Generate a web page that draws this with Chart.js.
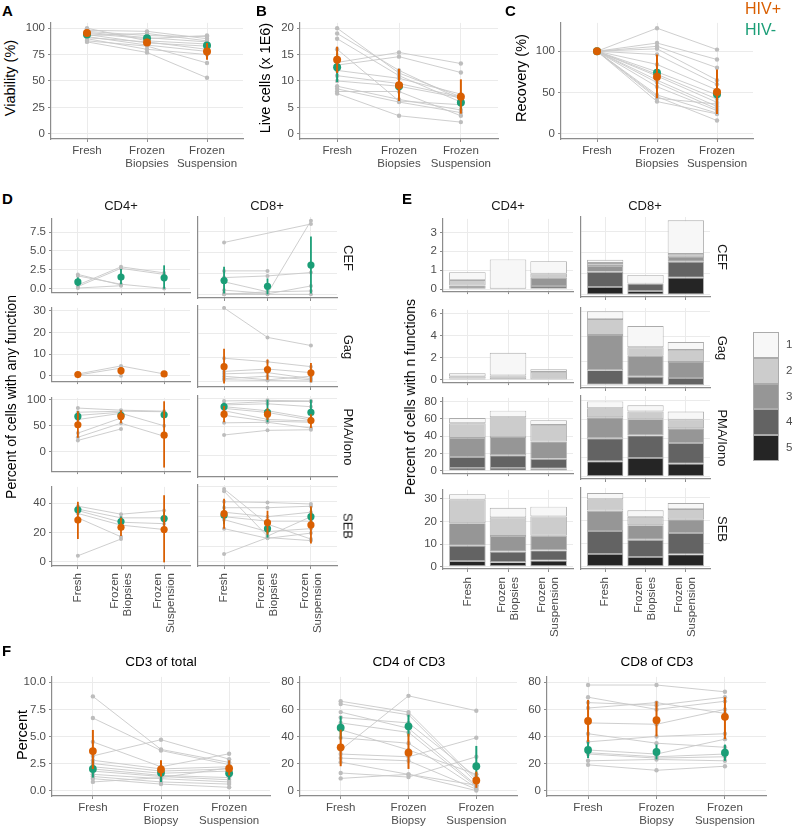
<!DOCTYPE html>
<html><head><meta charset="utf-8">
<script src="https://cdn.jsdelivr.net/npm/chart.js@4.4.1/dist/chart.umd.min.js"></script>
<style>
html,body{margin:0;padding:0;background:#fff;}
#fig{position:relative;width:800px;height:830px;overflow:hidden;background:#fff;font-family:"Liberation Sans",Arial,Helvetica,sans-serif;}
#fig canvas{position:absolute;}
.t{position:absolute;white-space:nowrap;line-height:1;}
</style></head>
<body><div id="fig"></div>
<script>
// ================= DATA =================
const stageLabels  = ["Fresh", ["Frozen","Biopsies"], ["Frozen","Suspension"]];
const stageLabelsF = ["Fresh", ["Frozen","Biopsy"], ["Frozen","Suspension"]];
const groupNames = ["HIV+","HIV-"];
const cellTypes = ["CD4+","CD8+"];
const stimuli = ["CEF","Gag","PMA/Iono","SEB"];
const functionCounts = ["1","2","3","4","5"];
const fTitles = ["CD3 of total","CD4 of CD3","CD8 of CD3"];

// A: viability (%)
const viabilitySubjects = [
  [100, 88, 85], [98, 97, 90], [97, 93, 92], [96, 91, 87], [95, 90, 93], [94, 86, 83],
  [93, 95, 88], [92, 84, 78], [91, 87, 80], [90, 80, 75], [88, 83, 67], [87, 77, 53]
];
const viabilityPos = [95.5, 86.5, 78.0], viabilityPosLo = [94.0, 83.0, 70.0], viabilityPosHi = [97.0, 90.0, 86.0];
const viabilityNeg = [94.0, 90.5, 83.5], viabilityNegLo = [92.0, 88.5, 80.0], viabilityNegHi = [96.0, 92.5, 87.0];

// B: live cells (x 1E6)
const liveSubjects = [
  [20, 11.5, 7.0], [19, 12, 6.5], [18, 11, 6.0], [16, 6.2, 5.5], [13.5, 15.4, 13.3], [13, 14.6, 11.6],
  [12, 10.5, 7.5], [11, 9.5, 7.0], [10, 9.0, 6.8], [9, 6.5, 4.5], [8.5, 6.0, 4.0], [8, 8.0, 3.4], [7.6, 3.4, 2.2]
];
const livePos = [14.0, 9.2, 7.0], livePosLo = [11.5, 6.2, 3.8], livePosHi = [16.5, 12.3, 10.3];
const liveNeg = [12.6, 9.0, 5.9], liveNegLo = [9.8, 6.6, 4.6], liveNegHi = [15.2, 11.4, 7.2];

// C: recovery (%)
const recoverySubjects = [
  [100, 128, 102], [100, 110, 90], [100, 106, 80], [100, 103, 65], [100, 96, 60], [100, 84, 53],
  [100, 75, 47], [100, 72, 42], [100, 70, 38], [100, 65, 33], [100, 62, 30], [100, 57, 28],
  [100, 47, 25], [100, 45, 16], [100, 43, 36], [100, 39, 24]
];
const recoveryPos = [100, 69, 50.5], recoveryPosLo = [99, 43, 24], recoveryPosHi = [101, 96, 78];
const recoveryNeg = [100, 74, 48], recoveryNegLo = [99, 64, 38], recoveryNegHi = [101, 84, 58];

// D: percent of cells with any function
const dCefCd4Subjects = [[1.9, 0.5, null], [1.7, 0.6, 0.05], [0.5, 2.9, 2.1], [0.3, 2.7, 1.9], [0.1, 0.4, null]];
const dCefCd4Neg = [0.9, 1.55, 1.45], dCefCd4NegLo = [0.35, 0.6, 0.0], dCefCd4NegHi = [1.5, 2.6, 3.1];
const dCefCd8Subjects = [[6.2, null, 8.4], [2.8, 2.8, null], [2.0, 2.2, 2.6], [1.5, 0.3, null], [0.5, 0.1, 8.8], [0.1, 0.05, 1.0], [0, 0.3, 0.4], [0, 0, 0]];
const dCefCd8Neg = [1.65, 0.95, 3.5], dCefCd8NegLo = [0.1, 0.0, 0.1], dCefCd8NegHi = [3.3, 1.9, 6.9];
const dGagCd4Subjects = [[0.8, 4.5, 0.8], [0.3, 3.5, null], [0.2, 0.0, null]];
const dGagCd4Pos = [0.5, 2.3, 0.8], dGagCd4PosLo = [0.1, 0.5, 0.5], dGagCd4PosHi = [0.9, 4.0, 1.1];
const dGagCd8Subjects = [[30.5, 18.2, 14.8], [9.5, 8, 6], [4, 5, 3.5], [3, 3.5, 1], [2, 0.5, 2], [1, 2, 0.5], [0.5, 0.2, 0]];
const dGagCd8Pos = [6.0, 4.8, 3.4], dGagCd8PosLo = [-1.0, 0.5, -0.5], dGagCd8PosHi = [13.5, 9.0, 7.5];
const dPmaCd4Subjects = [[84, 80, 78], [76, 78, 77], [70, 76, null], [62, 74, 50], [36, 65, null], [28, 55, 30], [22, 44, null]];
const dPmaCd4Pos = [52, 68, 32], dPmaCd4PosLo = [27, 55, -30], dPmaCd4PosHi = [78, 80, 97];
const dPmaCd4Neg = [68, 70, 71], dPmaCd4NegLo = [60, 65, 62], dPmaCd4NegHi = [78, 79, 80];
const dPmaCd8Subjects = [[95, 96, 95], [90, 94, 94], [88, 90, 85], [85, 78, 65], [82, 75, 62], [78, 63, 60], [70, 60, 58], [57, 58, 48], [36, 44, 45]];
const dPmaCd8Pos = [72, 72, 61], dPmaCd8PosLo = [58, 62, 48], dPmaCd8PosHi = [86, 82, 72];
const dPmaCd8Neg = [85, 75, 75], dPmaCd8NegLo = [78, 58, 60], dPmaCd8NegHi = [92, 97, 97];
const dSebCd4Subjects = [[38, 32.5, 35], [36, 30, 30], [35, 27, 26], [33, 25, 22], [30, 17, null], [4, 15.5, null]];
const dSebCd4Pos = [28.5, 23.5, 22], dSebCd4PosLo = [15.5, 17.5, -0.5], dSebCd4PosHi = [41, 30, 45.5];
const dSebCd4Neg = [35.5, 27.5, 29.5], dSebCd4NegLo = [32, 24, 25], dSebCd4NegHi = [39, 31, 34];
const dSebCd8Subjects = [[48.5, 25, 15], [47, 17, 30], [40, 39.5, 38.5], [36, 36, 37], [33, 30, 33], [30, 27, 27], [28, 20, 22], [22, 15.5, 19], [5, 16, 14]];
const dSebCd8Pos = [32, 26, 24.5], dSebCd8PosLo = [22, 18, 12], dSebCd8PosHi = [42, 34, 37];
const dSebCd8Neg = [31, 22, 30], dSebCd8NegLo = [25, 16, 25], dSebCd8NegHi = [38, 28, 36];

// E: percent of cells with n functions (rows: 1,2,3,4,5 functions; columns: stages)
const eCefCd4 = [[0.42, 1.54, 0.66], [0.28, 0, 0.22], [0.20, 0, 0.43], [0, 0.03, 0.17], [0, 0, 0]];
const eCefCd8 = [[0.15, 0.41, 1.60], [0.14, 0, 0.15], [0.28, 0, 0.22], [0.72, 0.36, 0.76], [0.38, 0.18, 0.82]];
const eGagCd4 = [[0.28, 2.05, 0.23], [0.20, 0.33, 0.72], [0.04, 0, 0], [0.08, 0.07, 0], [0, 0, 0]];
const eGagCd8 = [[0.63, 1.73, 0.65], [1.30, 0.70, 0.98], [2.87, 1.70, 1.30], [1.17, 0.64, 0.57], [0.08, 0.08, 0.05]];
const ePmaCd4 = [[6.0, 7.5, 5.5], [17.0, 23.0, 19.0], [22.0, 21.0, 20.0], [12.5, 14.5, 11.5], [3.5, 3.5, 2.5]];
const ePmaCd8 = [[7.0, 6.5, 8.5], [9.5, 8.0, 9.0], [22.0, 17.0, 15.5], [24.0, 23.5, 21.5], [16.0, 19.5, 13.5]];
const eSebCd4 = [[2.4, 4.2, 4.3], [10.4, 8.2, 8.5], [9.9, 6.9, 6.5], [6.8, 4.7, 4.5], [2.5, 2.0, 2.7]];
const eSebCd8 = [[2.6, 2.8, 2.6], [4.9, 3.6, 4.4], [8.8, 6.3, 5.9], [9.9, 7.4, 9.2], [5.5, 4.2, 5.3]];

// F: percent
const cd3Subjects = [
  [8.7, 3.8, 2.6], [6.7, 3.7, 2.4], [4.5, 2.2, 3.4], [3.2, 4.7, 2.9], [2.8, 2.0, 2.2], [2.5, 1.8, 2.0],
  [2.2, 1.6, 1.8], [2.0, 1.4, 1.2], [1.8, 1.3, 1.0], [1.5, 1.1, 0.8], [1.3, 0.8, 0.6], [1.1, 0.6, 0.3], [0.8, 1.2, 2.1]
];
const cd3Pos = [3.65, 1.95, 2.05], cd3PosLo = [2.0, 1.3, 1.4], cd3PosHi = [5.6, 2.8, 2.8];
const cd3Neg = [2.0, 1.65, 1.6], cd3NegLo = [1.2, 0.8, 1.0], cd3NegHi = [2.8, 2.4, 2.2];
const cd4Subjects = [
  [66, 58, 8], [64, 56, 6], [58, 46, 4], [54, 50, 10], [50, 43, 3], [45, 30, 12], [39, 35, 2],
  [30, 70, 59], [27, 25, 39], [24, 22, 1], [21, 12, 0], [13, 10, 25], [9, 12, 4]
];
const cd4Pos = [32, 28, 7.5], cd4PosLo = [18, 16, 2], cd4PosHi = [45, 42, 14];
const cd4Neg = [46.5, 47.5, 18], cd4NegLo = [38, 40, 10], cd4NegHi = [55, 56, 33];
const cd8Subjects = [
  [78, 78, 73], [69, 60, 66], [65, 63, 69], [61, 65, 57], [50, 49, 60], [42, 35, 32],
  [36, 40, 42], [30, 27, 38], [28, 25, 27], [27, 24, 25], [22, 23, 22], [19, 15, 18]
];
const cd8Pos = [51.5, 52, 54.5], cd8PosLo = [36, 40, 38], cd8PosHi = [67, 66, 69];
const cd8Neg = [30, 28.5, 28], cd8NegLo = [24, 23, 22], cd8NegHi = [36, 34, 34];

// ================= STYLE =================
const FONT = '"Liberation Sans", Arial, Helvetica, sans-serif';
const GRID = '#ebebeb', AXIS = '#8c8c8c', TICK = '#4d4d4d';
const SUBJ_LINE = '#c8c8c8', SUBJ_PT = '#bdbdbd';
const ORANGE = '#D95F02', GREEN = '#1B9E77';
const GREYS = ['#f7f7f7', '#cccccc', '#969696', '#636363', '#252525'];
const TICK_SIZE = 11.5;
Chart.defaults.font.family = FONT;
Chart.defaults.color = TICK;

const fig = document.getElementById('fig');

const errorBars = {
  id: 'errorBars',
  beforeDatasetDraw(chart, args) {
    const ds = chart.data.datasets[args.index];
    if (!ds.errLo) return;
    const ctx = chart.ctx, xs = chart.scales.x, ys = chart.scales.y, a = chart.chartArea;
    ctx.save();
    ctx.beginPath(); ctx.rect(a.left, a.top, a.right - a.left, a.bottom - a.top); ctx.clip();
    ctx.strokeStyle = ds.pointBackgroundColor; ctx.lineWidth = ds.errWidth || 2;
    ds.data.forEach((p, i) => {
      if (p.y == null || ds.errLo[i] == null) return;
      const px = xs.getPixelForValue(p.x);
      ctx.beginPath();
      ctx.moveTo(px, ys.getPixelForValue(ds.errLo[i]));
      ctx.lineTo(px, ys.getPixelForValue(ds.errHi[i]));
      ctx.stroke();
    });
    ctx.restore();
  }
};

const rotLabels = {
  id: 'rotLabels',
  afterDraw(chart) {
    const labels = chart.options.plugins.rotLabels && chart.options.plugins.rotLabels.labels;
    if (!labels) return;
    const gap = chart.options.plugins.rotLabels.gap || 6;
    const ctx = chart.ctx, xs = chart.scales.x, lh = 13;
    ctx.save();
    ctx.font = TICK_SIZE + 'px ' + FONT; ctx.fillStyle = TICK;
    ctx.textAlign = 'right'; ctx.textBaseline = 'middle';
    labels.forEach((lab, i) => {
      const lines = Array.isArray(lab) ? lab : [lab];
      const px = xs.getPixelForValue(i);
      lines.forEach((ln, j) => {
        ctx.save();
        ctx.translate(px + (j - (lines.length - 1) / 2) * lh, xs.top + gap);
        ctx.rotate(-Math.PI / 2);
        ctx.fillText(ln, 0, 0);
        ctx.restore();
      });
    });
    ctx.restore();
  }
};

function pts(arr) { return arr.map((v, i) => ({x: i, y: v})); }

function makeChart(spec, type, datasets) {
  const padT = 8, padR = spec.padR != null ? spec.padR : 30;
  const W = Math.round(spec.yw + spec.w + padR), H = Math.round(padT + spec.h + spec.xh);
  const c = document.createElement('canvas');
  c.width = W; c.height = H;
  c.style.left = (spec.left - spec.yw) + 'px'; c.style.top = (spec.top - padT) + 'px';
  c.style.width = W + 'px'; c.style.height = H + 'px';
  fig.appendChild(c);
  const xl = spec.xlabels || null;
  const showY = spec.yticks !== false;
  new Chart(c, {
    type: type,
    data: {datasets: datasets},
    options: {
      responsive: false, animation: false, devicePixelRatio: 1, events: [],
      layout: {padding: {top: padT, right: padR, left: 0, bottom: 0}},
      plugins: {legend: {display: false}, tooltip: {enabled: false},
                rotLabels: {labels: spec.rotLabels || null, gap: spec.rotGap || 6}},
      datasets: {bar: {barPercentage: 0.9, categoryPercentage: 1.0}},
      scales: {
        x: {type: 'linear', min: -0.6, max: 2.6, offset: false, stacked: !!spec.stacked,
            afterFit: s => { s.height = spec.xh; },
            border: {display: true, color: AXIS, width: 1.2},
            grid: {color: GRID, lineWidth: 1, tickColor: AXIS, tickLength: 3, offset: false},
            ticks: {display: !!xl, stepSize: 1, includeBounds: false, autoSkip: false,
                    maxRotation: 0, minRotation: 0, padding: 3, color: TICK,
                    font: {size: TICK_SIZE, lineHeight: 1.1},
                    callback: v => (xl && Number.isInteger(v)) ? xl[v] : ''}},
        y: {type: 'linear', min: spec.ymin, max: spec.ymax, stacked: !!spec.stacked,
            afterFit: s => { s.width = spec.yw; },
            border: {display: true, color: AXIS, width: 1.2},
            grid: {color: GRID, lineWidth: 1, tickColor: AXIS, tickLength: 3, drawTicks: showY},
            ticks: {display: showY, stepSize: spec.ystep, includeBounds: false, padding: 3,
                    color: TICK, font: {size: TICK_SIZE}, callback: spec.yfmt || (v => v)}}
      }
    },
    plugins: [errorBars, rotLabels]
  });
}

function lineFacet(spec) {
  const ds = [];
  const mr = spec.meanR || 4;
  if (spec.pos) ds.push({data: pts(spec.pos[0]), errLo: spec.pos[1], errHi: spec.pos[2], showLine: false,
      pointRadius: mr, pointBackgroundColor: ORANGE, pointBorderColor: ORANGE, pointBorderWidth: 0, order: 0, errWidth: spec.errW || 2});
  if (spec.neg) ds.push({data: pts(spec.neg[0]), errLo: spec.neg[1], errHi: spec.neg[2], showLine: false,
      pointRadius: mr, pointBackgroundColor: GREEN, pointBorderColor: GREEN, pointBorderWidth: 0, order: 1, errWidth: spec.errW || 2});
  spec.subjects.forEach(s => ds.push({data: pts(s), borderColor: SUBJ_LINE, borderWidth: 0.9,
      pointRadius: spec.subjR || 2.2, pointBackgroundColor: SUBJ_PT, pointBorderWidth: 0, spanGaps: true, tension: 0, order: 2}));
  makeChart(spec, 'line', ds);
}

function barFacet(spec) {
  const ds = [];
  for (let k = 4; k >= 0; k--) {
    ds.push({label: functionCounts[k], data: pts(spec.levels[k]), backgroundColor: GREYS[k],
             borderColor: '#ababab', borderWidth: 0.9, borderSkipped: false});
  }
  makeChart(Object.assign({stacked: true}, spec), 'bar', ds);
}

function text(str, x, y, size, o) {
  o = o || {};
  const d = document.createElement('div');
  d.className = 't'; d.textContent = str;
  d.style.left = x + 'px'; d.style.top = y + 'px';
  d.style.fontSize = size + 'px';
  d.style.color = o.color || '#000';
  if (o.bold) d.style.fontWeight = 'bold';
  const tx = o.align === 'left' ? '0' : '-50%';
  d.style.transformOrigin = 'center center';
  d.style.transform = `translate(${tx},-50%)` + (o.rot ? ` rotate(${o.rot}deg)` : '');
  fig.appendChild(d);
  return d;
}

// ================= PANELS A-C =================
const topRow = {top: 21, h: 118, yw: 30, xh: 34, xlabels: stageLabels};
lineFacet(Object.assign({}, topRow, {left: 51, w: 192, ymin: -5, ymax: 105, ystep: 25,
  subjects: viabilitySubjects, pos: [viabilityPos, viabilityPosLo, viabilityPosHi], neg: [viabilityNeg, viabilityNegLo, viabilityNegHi]}));
lineFacet(Object.assign({}, topRow, {left: 300, w: 198, ymin: -1, ymax: 21, ystep: 5,
  subjects: liveSubjects, pos: [livePos, livePosLo, livePosHi], neg: [liveNeg, liveNegLo, liveNegHi]}));
lineFacet(Object.assign({}, topRow, {left: 561, w: 192, ymin: -6.4, ymax: 134.4, ystep: 50,
  subjects: recoverySubjects, neg: [recoveryNeg, recoveryNegLo, recoveryNegHi], pos: [recoveryPos, recoveryPosLo, recoveryPosHi]}));

// ================= PANEL D =================
const dCols = [{left: 52, w: 138, yw: 30, yticks: true}, {left: 198, w: 139, yw: 4, yticks: false}];
const dRows = [
  {top: 217, h: 81, ymin: -0.44, ymax: 9.24, ystep: 2.5, yfmt: v => v.toFixed(1)},
  {top: 306, h: 81, ymin: -2.5, ymax: 31.3, ystep: 10},
  {top: 396, h: 81, ymin: -36.8, ymax: 103.5, ystep: 50},
  {top: 485, h: 81, ymin: -3.0, ymax: 51.2, ystep: 10}
];
const dData = [
  [{subjects: dCefCd4Subjects, neg: [dCefCd4Neg, dCefCd4NegLo, dCefCd4NegHi]},
   {subjects: dCefCd8Subjects, neg: [dCefCd8Neg, dCefCd8NegLo, dCefCd8NegHi]}],
  [{subjects: dGagCd4Subjects, pos: [dGagCd4Pos, dGagCd4PosLo, dGagCd4PosHi]},
   {subjects: dGagCd8Subjects, pos: [dGagCd8Pos, dGagCd8PosLo, dGagCd8PosHi]}],
  [{subjects: dPmaCd4Subjects, pos: [dPmaCd4Pos, dPmaCd4PosLo, dPmaCd4PosHi], neg: [dPmaCd4Neg, dPmaCd4NegLo, dPmaCd4NegHi]},
   {subjects: dPmaCd8Subjects, pos: [dPmaCd8Pos, dPmaCd8PosLo, dPmaCd8PosHi], neg: [dPmaCd8Neg, dPmaCd8NegLo, dPmaCd8NegHi]}],
  [{subjects: dSebCd4Subjects, pos: [dSebCd4Pos, dSebCd4PosLo, dSebCd4PosHi], neg: [dSebCd4Neg, dSebCd4NegLo, dSebCd4NegHi]},
   {subjects: dSebCd8Subjects, pos: [dSebCd8Pos, dSebCd8PosLo, dSebCd8PosHi], neg: [dSebCd8Neg, dSebCd8NegLo, dSebCd8NegHi]}]
];
dRows.forEach((r, ri) => dCols.forEach((c, ci) => {
  const last = ri === dRows.length - 1;
  lineFacet(Object.assign({}, r, c, dData[ri][ci], {
    xh: last ? 72 : 4, rotLabels: last ? stageLabels : null, rotGap: 7,
    meanR: 3.6, subjR: 2, errW: 1.8, padR: 8}));
}));

// ================= PANEL E =================
const eCols = [{left: 443, w: 130, yw: 30, yticks: true}, {left: 581, w: 129, yw: 4, yticks: false}];
const eRows = [
  {top: 217, h: 80, ymin: -0.1, ymax: 3.71, ystep: 1},
  {top: 308, h: 80, ymin: -0.2, ymax: 6.32, ystep: 2},
  {top: 396, h: 83, ymin: -2.5, ymax: 84.2, ystep: 20},
  {top: 488, h: 81, ymin: -1.0, ymax: 33.9, ystep: 10}
];
const eData = [[eCefCd4, eCefCd8], [eGagCd4, eGagCd8], [ePmaCd4, ePmaCd8], [eSebCd4, eSebCd8]];
eRows.forEach((r, ri) => eCols.forEach((c, ci) => {
  const last = ri === eRows.length - 1;
  barFacet(Object.assign({}, r, c, {levels: eData[ri][ci],
    xh: last ? 72 : 4, rotLabels: last ? stageLabels : null, rotGap: 8, padR: 8}));
}));

// ================= PANEL F =================
const fRow = {top: 675, h: 121, yw: 32, xh: 34, xlabels: stageLabelsF, meanR: 3.9};
lineFacet(Object.assign({}, fRow, {left: 52, w: 218, ymin: -0.5, ymax: 10.5, ystep: 2.5, yfmt: v => v.toFixed(1),
  subjects: cd3Subjects, neg: [cd3Neg, cd3NegLo, cd3NegHi], pos: [cd3Pos, cd3PosLo, cd3PosHi]}));
lineFacet(Object.assign({}, fRow, {left: 300, w: 217, ymin: -4, ymax: 84, ystep: 20,
  subjects: cd4Subjects, neg: [cd4Neg, cd4NegLo, cd4NegHi], pos: [cd4Pos, cd4PosLo, cd4PosHi]}));
lineFacet(Object.assign({}, fRow, {left: 547, w: 219, ymin: -4, ymax: 84, ystep: 20,
  subjects: cd8Subjects, neg: [cd8Neg, cd8NegLo, cd8NegHi], pos: [cd8Pos, cd8PosLo, cd8PosHi]}));

// ================= TEXT =================
const TITLE = 14;
text('A', 2, 10, 15, {bold: true, align: 'left'});
text('B', 256, 10, 15, {bold: true, align: 'left'});
text('C', 505, 10, 15, {bold: true, align: 'left'});
text('D', 2, 198, 15, {bold: true, align: 'left'});
text('E', 402, 198, 15, {bold: true, align: 'left'});
text('F', 2, 650, 15, {bold: true, align: 'left'});

text(groupNames[0], 745, 9, 16, {color: ORANGE, align: 'left'});
text(groupNames[1], 745, 30, 16, {color: GREEN, align: 'left'});

text('Viability (%)', 10, 78, TITLE + 0.5, {rot: -90});
text('Live cells (x 1E6)', 265, 78, TITLE + 0.5, {rot: -90});
text('Recovery (%)', 521, 78, TITLE + 0.5, {rot: -90});
text('Percent of cells with any function', 11, 397, TITLE, {rot: -90});
text('Percent of cells with n functions', 410, 397, TITLE, {rot: -90});
text('Percent', 22, 735, TITLE + 0.5, {rot: -90});

// strips
text(cellTypes[0], 121, 205, 13, {color: '#1a1a1a'});
text(cellTypes[1], 267, 205, 13, {color: '#1a1a1a'});
text(cellTypes[0], 508, 205, 13, {color: '#1a1a1a'});
text(cellTypes[1], 645, 205, 13, {color: '#1a1a1a'});
dRows.forEach((r, i) => text(stimuli[i], 348, r.top + r.h / 2, 13, {rot: 90, color: '#1a1a1a'}));
eRows.forEach((r, i) => text(stimuli[i], 722, r.top + r.h / 2, 13, {rot: 90, color: '#1a1a1a'}));

// F titles
text(fTitles[0], 161, 662, 13.5);
text(fTitles[1], 409, 662, 13.5);
text(fTitles[2], 657, 662, 13.5);

// E legend
functionCounts.forEach((lab, k) => {
  const y0 = 332 + k * 25.8;
  const b = document.createElement('div');
  b.style.cssText = `position:absolute;left:753px;top:${y0}px;width:26px;height:25.8px;background:${GREYS[k]};box-sizing:border-box;border:1px solid #ababab;`;
  fig.appendChild(b);
  text(lab, 786, y0 + 13, 11.5, {color: TICK, align: 'left'});
});
</script>
</body></html>
